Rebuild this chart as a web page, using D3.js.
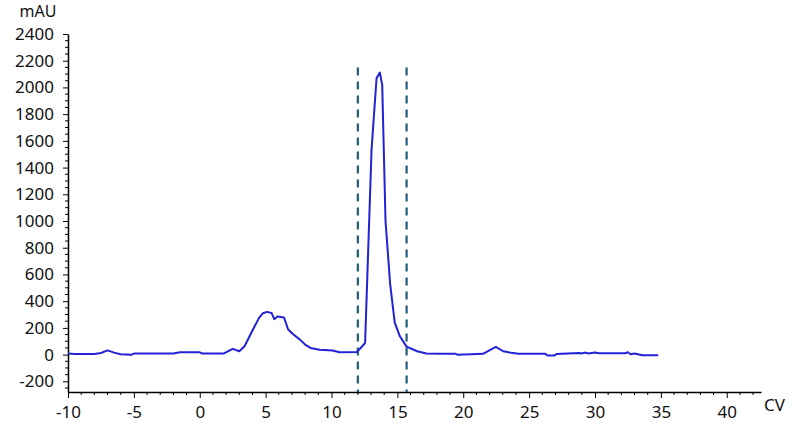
<!DOCTYPE html>
<html>
<head>
<meta charset="utf-8">
<script src="https://cdn.jsdelivr.net/npm/d3@7"></script>
<style>
  body { margin: 0; background: #fff; }
  svg { display: block; }
  text { font-family: "Noto Sans", "DejaVu Sans", sans-serif; fill: #111; }
</style>
</head>
<body>
<div id="chart"></div>
<script>
// chromatogram trace: retention volume (CV) vs absorbance (mAU)
const cv = [-10, -9.5, -8, -7.5, -7, -6.5, -6, -5.2, -5, -2, -1.5, 0, 0.2, 1.8, 2.5, 3.0, 3.4,
  4.0, 4.5, 4.8, 5.1, 5.45, 5.65, 5.9, 6.4, 6.7, 7.0, 7.6, 8.0, 8.4, 9.1, 10.1, 10.6, 11.95,
  12.55, 13.04, 13.42, 13.67, 13.85, 14.1, 14.45, 14.8, 15.2, 15.7, 16.5, 17.2, 18.2, 19.4, 19.6,
  21.5, 22.47, 23.03, 23.67, 24.17, 26.2, 26.4, 26.9, 27.1, 28.8, 29.0, 29.2, 29.5, 30.0, 30.3,
  32.3, 32.5, 32.7, 33.0, 33.6, 34.8]
const mAU = [8, 5, 5, 12, 32, 15, 2, -2, 8, 8, 17, 17, 8, 8, 43, 25, 62,
  180, 275, 310, 320, 312, 265, 285, 278, 190, 160, 112, 75, 50, 37, 30, 18, 20,
  87, 1533, 2069, 2111, 2019, 1000, 530, 240, 135, 60, 25, 8, 7, 6, -2,
  6, 57, 25, 13, 7, 7, -7, -7, 5, 12, 8, 15, 8, 15, 10,
  10, 18, 3, 8, -5, -5]

// fraction cut markers
const markers = [12.0, 15.7]

const xTicks = [-10, -5, 0, 5, 10, 15, 20, 25, 30, 35, 40]
const yTicks = [-200, 0, 200, 400, 600, 800, 1000, 1200, 1400, 1600, 1800, 2000, 2200, 2400]

const width = 800
const height = 441

const svg = d3.select('#chart')
  .append('svg')
  .attr('width', width)
  .attr('height', height)

const x = d3.scaleLinear().domain([-10, 42.6]).range([68, 761])
const y = d3.scaleLinear().domain([-280, 2400]).range([392, 34])

// minor ticks
const xMinor = d3.range(-10, 43, 1).filter(v => !xTicks.includes(v))
const yMinor = d3.range(-250, 2400, 50).filter(v => !yTicks.includes(v))

const plain = d => String(d)

const xAxis = svg.append('g')
  .attr('transform', `translate(0,${y.range()[0]})`)
  .call(d3.axisBottom(x).tickValues(xTicks).tickFormat(plain)
    .tickSize(6).tickSizeOuter(0).tickPadding(8))
xAxis.append('g')
  .selectAll('line')
  .data(xMinor)
  .join('line')
  .attr('x1', d => x(d)).attr('x2', d => x(d))
  .attr('y1', 0).attr('y2', 3)
  .attr('stroke', '#000')

const yAxis = svg.append('g')
  .attr('transform', `translate(${x.range()[0]},0)`)
  .call(d3.axisLeft(y).tickValues(yTicks).tickFormat(plain)
    .tickSize(5).tickSizeOuter(0).tickPadding(9))
yAxis.append('g')
  .selectAll('line')
  .data(yMinor)
  .join('line')
  .attr('y1', d => y(d)).attr('y2', d => y(d))
  .attr('x1', 0).attr('x2', -3)
  .attr('stroke', '#000')

svg.selectAll('.domain').attr('stroke', '#000').attr('stroke-width', 1.5)
svg.selectAll('.tick line').attr('stroke', '#000')
svg.selectAll('.tick text')
  .style('font-size', '17px')
  .attr('fill', '#111')

svg.append('text')
  .attr('x', 38).attr('y', 17)
  .attr('text-anchor', 'middle')
  .style('font-size', '16px')
  .text('mAU')

svg.append('text')
  .attr('x', 764).attr('y', 411)
  .style('font-size', '17px')
  .text('CV')

// cut lines
svg.append('g')
  .selectAll('line')
  .data(markers)
  .join('line')
  .attr('x1', d => x(d)).attr('x2', d => x(d))
  .attr('y1', y(2150)).attr('y2', y.range()[0])
  .attr('stroke', '#1f5d78')
  .attr('stroke-width', 2.2)
  .attr('stroke-dasharray', '8,6')

const points = cv.map((c, i) => [c, mAU[i]])
const line = d3.line()
  .x(d => x(d[0]))
  .y(d => y(d[1]))

svg.append('path')
  .datum(points)
  .attr('fill', 'none')
  .attr('stroke', '#2222d6')
  .attr('stroke-width', 2)
  .attr('stroke-linejoin', 'round')
  .attr('d', line)
</script>
</body>
</html>
